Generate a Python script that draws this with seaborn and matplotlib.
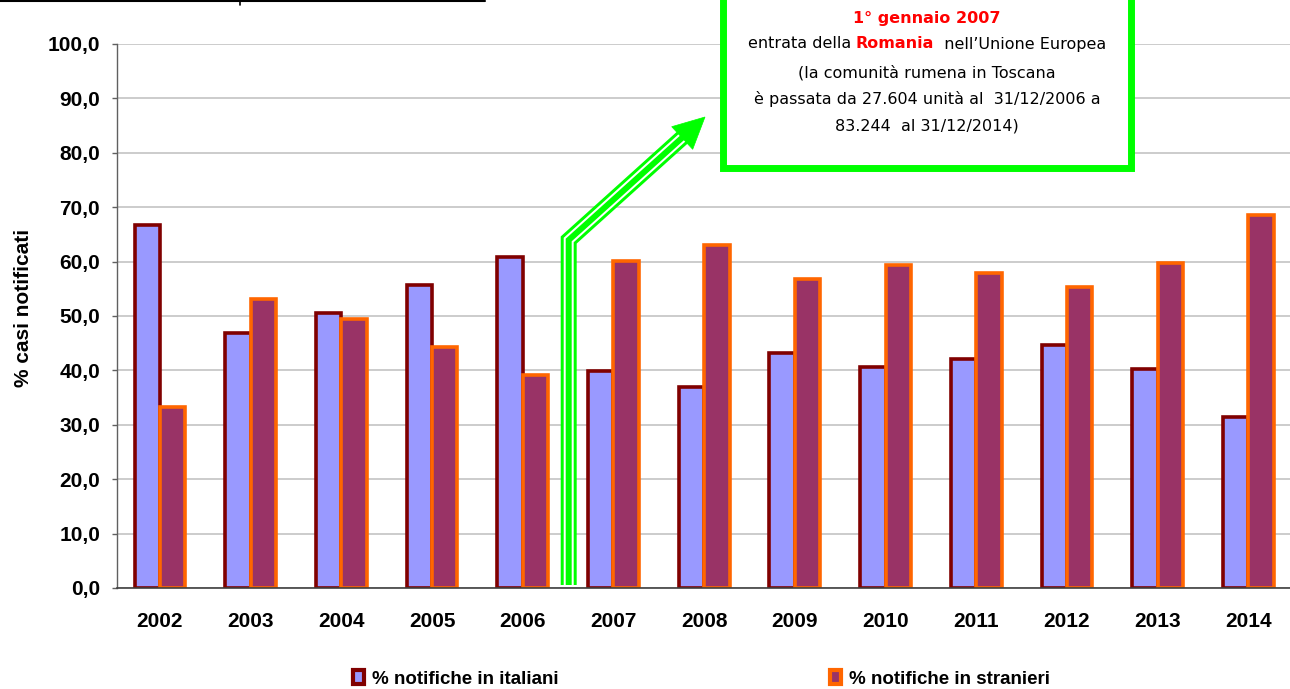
import matplotlib
matplotlib.use("Agg")
import matplotlib.pyplot as plt
import seaborn as sns
import pandas as pd
import numpy as np
from matplotlib.patches import Rectangle, Polygon, Patch
from matplotlib.lines import Line2D
from matplotlib.offsetbox import TextArea, HPacker, AnnotationBbox

# ---- data ----
anni = ["2002", "2003", "2004", "2005", "2006", "2007", "2008",
        "2009", "2010", "2011", "2012", "2013", "2014"]
italiani = [66.7, 46.9, 50.6, 55.7, 60.8, 39.9, 36.9, 43.2, 40.6, 42.1, 44.7, 40.3, 31.4]
stranieri = [33.3, 53.1, 49.4, 44.3, 39.2, 60.1, 63.1, 56.8, 59.4, 57.9, 55.3, 59.7, 68.6]
serie = ["% notifiche in italiani", "% notifiche in stranieri"]
ytick_vals = [0, 10, 20, 30, 40, 50, 60, 70, 80, 90, 100]
ytick_labels = ["0,0", "10,0", "20,0", "30,0", "40,0", "50,0",
                "60,0", "70,0", "80,0", "90,0", "100,0"]

fill_colors = ["#9999FF", "#993366"]
edge_colors = ["#800000", "#FF6600"]

df = pd.DataFrame({
    "anno": anni * 2,
    "valore": italiani + stranieri,
    "serie": [serie[0]] * len(anni) + [serie[1]] * len(anni),
})

sns.set_style("white")
plt.rcParams["font.family"] = ["Liberation Sans", "DejaVu Sans"]
plt.rcParams["text.color"] = "black"
plt.rcParams["axes.labelcolor"] = "black"
plt.rcParams["xtick.color"] = "black"
plt.rcParams["ytick.color"] = "black"

W, H = 1290, 689
fig = plt.figure(figsize=(W / 100, H / 100), dpi=100)
ax = fig.add_axes([117 / W, 1 - 588 / H, (W - 117) / W, (588 - 44) / H])

sns.barplot(data=df, x="anno", y="valore", hue="serie", palette=fill_colors,
            width=0.56, saturation=1, linewidth=2.6, ax=ax, legend=False,
            errorbar=None)
for cont, ec in zip(ax.containers, edge_colors):
    for bar in cont:
        bar.set_edgecolor(ec)
        bar.set_linewidth(2.6)

ax.set_xlim(-0.474, 12.46)
ax.set_ylim(0, 100)
ax.set_yticks(ytick_vals)
ax.set_yticklabels(ytick_labels, fontsize=15, fontweight="bold", color="black")
ax.set_xticks(range(len(anni)))
ax.set_xticklabels(anni, fontsize=15, fontweight="bold", color="black")
ax.set_xticks(np.arange(0.5, len(anni) - 1, 1), minor=True)
ax.tick_params(axis="x", which="major", length=0, pad=17)
ax.tick_params(axis="x", which="minor", length=5, width=1.2, color="#404040", direction="out")
ax.tick_params(axis="y", which="major", length=3.6, width=1.0, color="#606060",
               direction="out", pad=8.6, left=True)
ax.yaxis.grid(True, color="#C8C8C8", linewidth=1.3)
ax.set_axisbelow(True)
for s in ["top", "right"]:
    ax.spines[s].set_visible(False)
ax.spines["left"].set_color("#606060")
ax.spines["left"].set_linewidth(1.0)
ax.spines["bottom"].set_color("#404040")
ax.spines["bottom"].set_linewidth(1.2)
ax.set_xlabel("")
ax.set_ylabel("% casi notificati", fontsize=15, fontweight="bold", color="black")
ax.yaxis.set_label_coords(-0.0716, 0.515)


def fx(px):
    return px / W


def fy(py):
    return 1 - py / H


# top-left line remnant
fig.add_artist(Line2D([fx(0), fx(485)], [fy(1), fy(1)], color="black", lw=1.5,
                      transform=fig.transFigure))
fig.add_artist(Line2D([fx(240), fx(240)], [fy(0), fy(5)], color="black", lw=1.2,
                      transform=fig.transFigure))

# green arrow
green = "#00FF00"
xs = [fx(568.7), fx(568.7), fx(683)]
ys = [fy(585), fy(240), fy(137)]
fig.add_artist(Line2D(xs, ys, color=green, lw=11.5, transform=fig.transFigure,
                      solid_joinstyle="miter", solid_capstyle="butt", zorder=3))
fig.add_artist(Line2D(xs, ys, color="white", lw=7.2, transform=fig.transFigure,
                      solid_joinstyle="miter", solid_capstyle="butt", zorder=3))
fig.add_artist(Line2D(xs, ys, color=green, lw=4.3, transform=fig.transFigure,
                      solid_joinstyle="miter", solid_capstyle="butt", zorder=3))
fig.add_artist(Polygon([[fx(705), fy(117)], [fx(671.7), fy(126.7)], [fx(692.7), fy(149.3)]],
                       closed=True, facecolor=green, edgecolor=green, lw=0.5,
                       transform=fig.transFigure, zorder=4))

# green annotation box
fig.add_artist(Rectangle((fx(723), fy(168)), fx(1131) - fx(723), fy(-20) - fy(168),
                         transform=fig.transFigure, facecolor="white", edgecolor=green,
                         lw=5, zorder=4, clip_on=False))
cx = fx(927)
bfont = ["DejaVu Sans"]
fs = 11.5
fig.text(cx, fy(18), "1° gennaio 2007", color="#FF0000", fontweight="bold",
         fontsize=fs, ha="center", va="center", family=bfont, zorder=5)
tp = dict(fontsize=fs, color="black", family=bfont)
hp = HPacker(children=[
    TextArea("entrata della ", textprops=tp),
    TextArea("Romania", textprops=dict(fontsize=fs, color="#FF0000", fontweight="bold", family=bfont)),
    TextArea("  nell’Unione Europea", textprops=tp),
], align="baseline", pad=0, sep=0)
ab = AnnotationBbox(hp, (cx, fy(44)), xycoords="figure fraction", frameon=False,
                    box_alignment=(0.5, 0.5), zorder=5)
fig.add_artist(ab)
fig.text(cx, fy(73), "(la comunità rumena in Toscana", fontsize=fs, ha="center",
         va="center", family=bfont, color="black", zorder=5)
fig.text(cx, fy(99), "è passata da 27.604 unità al  31/12/2006 a", fontsize=fs,
         ha="center", va="center", family=bfont, color="black", zorder=5)
fig.text(cx, fy(126), "83.244  al 31/12/2014)", fontsize=fs, ha="center",
         va="center", family=bfont, color="black", zorder=5)

# legends
for i, xpx in enumerate([353, 830]):
    h = Patch(facecolor=fill_colors[i], edgecolor=edge_colors[i], lw=3)
    fig.legend(handles=[h], labels=[serie[i]], loc="center left",
               bbox_to_anchor=(fx(xpx), fy(679)), frameon=False, borderpad=0,
               borderaxespad=0, handlelength=0.6, handleheight=0.75,
               handletextpad=0.4, labelcolor="black",
               prop=dict(size=13.5, weight="bold"))

fig.savefig("out.png", dpi=100)
